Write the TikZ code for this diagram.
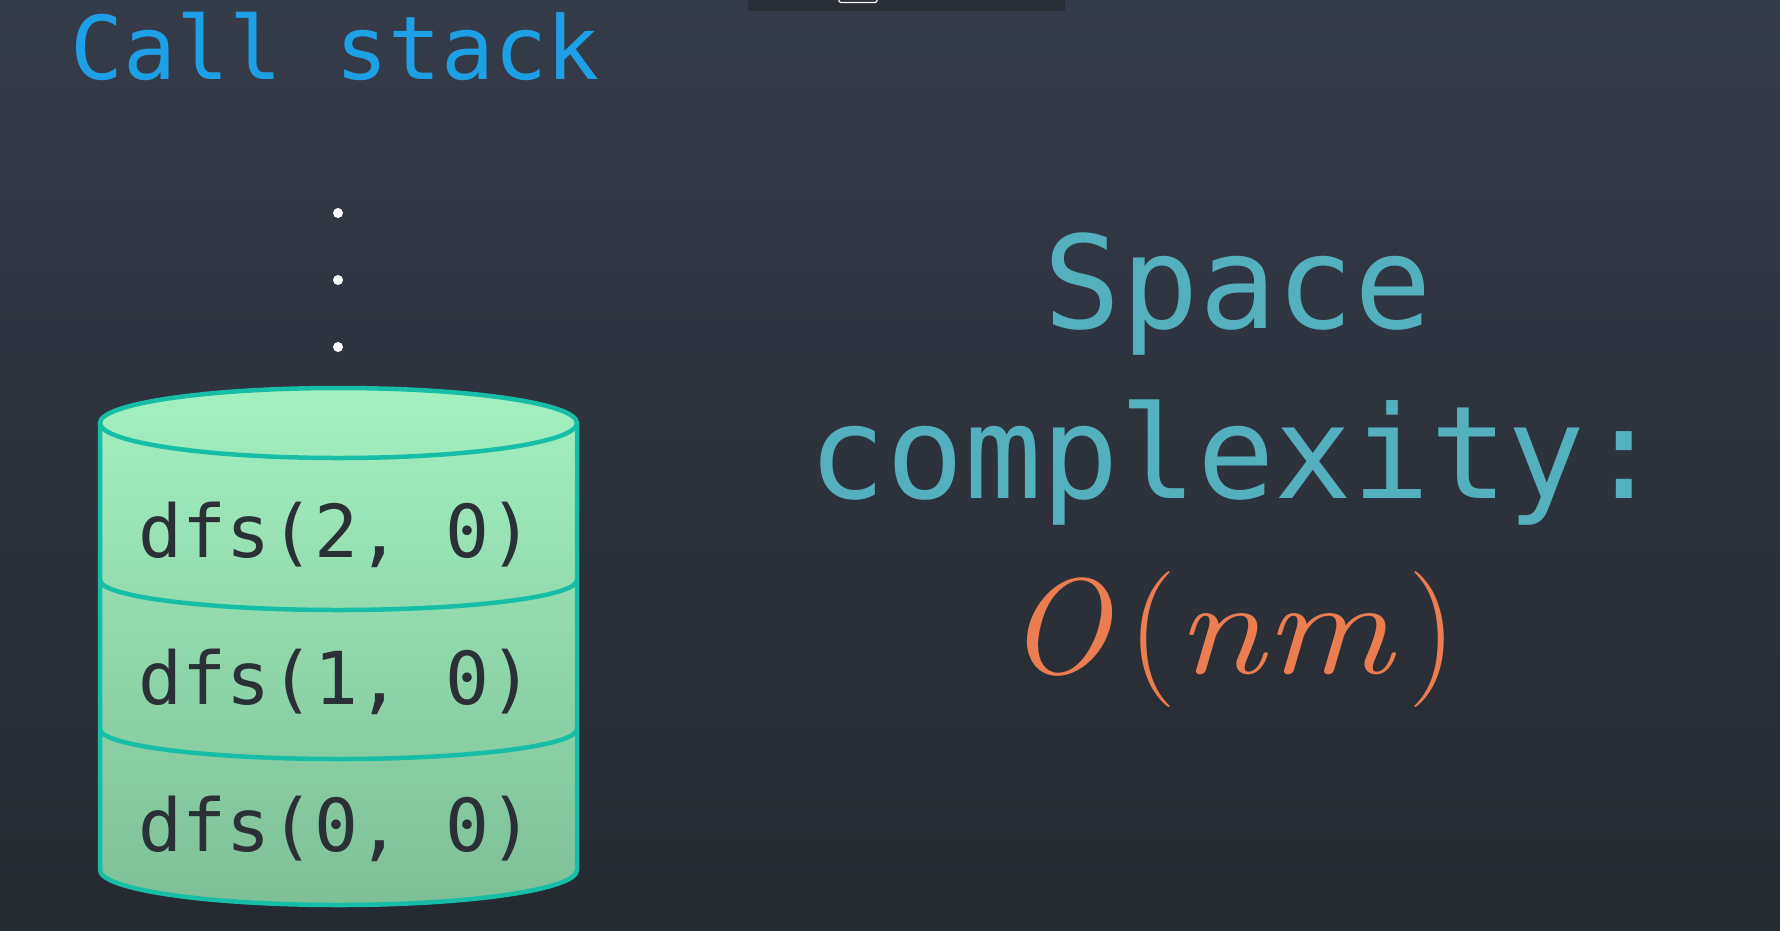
\documentclass[tikz,border=0pt]{standalone}
\usepackage{fontspec}
\usepackage{graphicx}
\newfontfamily\monofont{DejaVu Sans Mono}
\definecolor{bgtop}{HTML}{353C49}
\definecolor{bgbot}{HTML}{252930}
\definecolor{barcol}{HTML}{2A2E36}
\definecolor{callblue}{HTML}{1EA0E6}
\definecolor{teal}{HTML}{54B0BE}
\definecolor{orangec}{HTML}{EC7D50}
\definecolor{cylline}{HTML}{16BEA5}
\definecolor{filltop}{HTML}{A3F0C1}
\definecolor{fillbot}{HTML}{7EBF97}
\definecolor{darktext}{HTML}{2B2F36}
\tikzset{
  titletext/.style={inner sep=0pt, text=callblue, font=\monofont\fontsize{88}{100}\selectfont},
  bigtext/.style={inner sep=0pt, text=teal, font=\monofont\fontsize{129}{140}\selectfont},
  mathtext/.style={inner sep=0pt, text=orangec, font=\rmfamily\fontsize{136}{150}\selectfont},
  frametext/.style={inner sep=0pt, text=darktext, font=\monofont\fontsize{73}{80}\selectfont},
  dotnode/.style={circle, fill=white, inner sep=0pt, minimum size=10pt},
  cylstroke/.style={draw=cylline, line width=4.5pt}
}
\begin{document}
\begin{tikzpicture}[x=1pt,y=-1pt]
\useasboundingbox (0,0) rectangle (1780,930);
% background
\shade[top color=bgtop, bottom color=bgbot] (0,0) rectangle (1780,930);
\fill[barcol] (748,0) rectangle (1065,11);
\draw[white, line width=1.2pt, rounded corners=1.5pt] (839,-1) -- (839,2.5) -- (877,2.5) -- (877,-1);
% title
\node[titletext, anchor=base west] (title) at (70,79) {Call stack};
% dots
\node[dotnode] (dot1) at (338,213) {};
\node[dotnode] (dot2) at (338,280) {};
\node[dotnode] (dot3) at (338,347) {};
% cylinder body
\shade[top color=filltop, bottom color=fillbot]
  (100,423) -- (100,870) arc[start angle=180, end angle=360, x radius=238.5pt, y radius=35pt]
  -- (577,423) arc[start angle=0, end angle=180, x radius=238.5pt, y radius=35pt] -- cycle;
\draw[cylstroke, line join=round]
  (100,423) -- (100,870) arc[start angle=180, end angle=360, x radius=238.5pt, y radius=35pt]
  -- (577,423);
\draw[cylstroke] (338.5,423) ellipse[x radius=238.5pt, y radius=35pt];
\draw[cylstroke] (100,580) arc[start angle=180, end angle=360, x radius=238.5pt, y radius=30pt];
\draw[cylstroke] (100,729) arc[start angle=180, end angle=360, x radius=238.5pt, y radius=30pt];
% frames
\node[frametext, anchor=base] (f2) at (336,557) {dfs(2, 0)};
\node[frametext, anchor=base] (f1) at (336,704) {dfs(1, 0)};
\node[frametext, anchor=base] (f0) at (336,851) {dfs(0, 0)};
% right side
\node[bigtext, anchor=base] (space) at (1238,328) {Space};
\node[bigtext, anchor=base] (complexity) at (1236,498) {complexity:};
\node[mathtext, anchor=base] (bigo) at (1232,673) {\textit{O}\kern16pt(\scalebox{1.18}[1]{\textit{nm}}\kern12pt)};
\end{tikzpicture}
\end{document}
